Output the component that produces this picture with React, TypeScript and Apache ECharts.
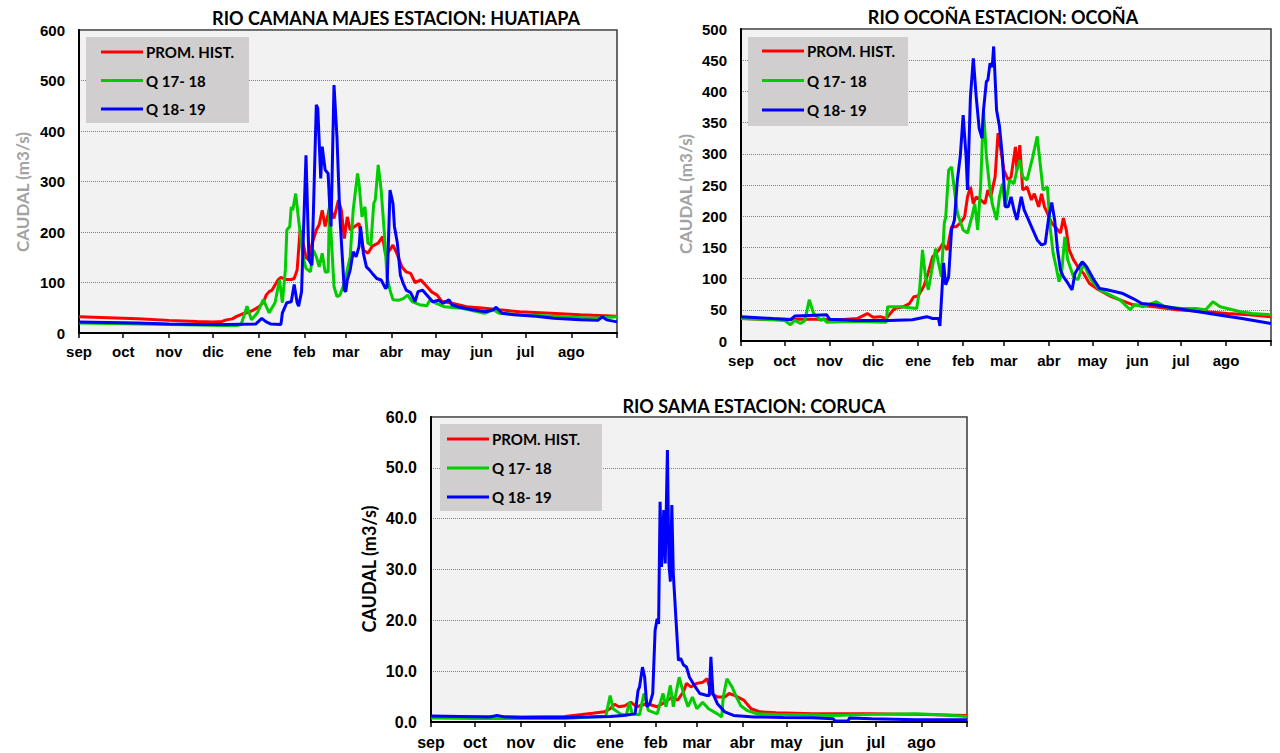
import React, { useEffect, useRef } from "react";
import * as echarts from "echarts";

// ---------- data ----------
const MONTHS = ["sep", "oct", "nov", "dic", "ene", "feb", "mar", "abr", "may", "jun", "jul", "ago"];
const MONTH_START_DAYS = [0, 30, 61, 91, 122, 153, 181, 212, 242, 273, 303, 334];
const YEAR_DAYS = 365;
const SERIES_NAMES = ["PROM. HIST.", "Q 17- 18", "Q 18- 19"];
const TITLES = [
  "RIO CAMANA MAJES ESTACION: HUATIAPA",
  "RIO OCOÑA ESTACION: OCOÑA",
  "RIO SAMA ESTACION: CORUCA",
];
const Y_NAME = "CAUDAL (m3/s)";

// [day since 1 sep, caudal m3/s]
const HUA_PROM: [number, number][] = [
  [0, 32], [20, 30], [40, 28], [61, 25], [80, 23], [91, 22], [97, 23], [100, 26], [104, 28], [107, 33],
  [111, 38], [114, 40], [118, 45], [122, 52], [125, 60], [127, 75], [129, 82], [131, 85], [133, 95], [135, 105],
  [137, 110], [140, 106], [144, 106], [146, 108], [148, 125], [150, 204], [152, 178], [154, 150], [156, 145], [158, 175],
  [161, 204], [163, 215], [165, 243], [167, 211], [169, 235], [170, 250], [173, 227], [176, 263], [178, 243], [180, 187],
  [182, 230], [184, 204], [187, 211], [190, 217], [193, 164], [196, 158], [199, 172], [203, 178], [206, 191], [208, 154],
  [211, 165], [213, 174], [216, 155], [219, 131], [222, 121], [225, 118], [228, 100], [232, 105], [236, 92], [239, 82],
  [243, 75], [246, 63], [253, 59], [263, 52], [275, 49], [285, 46], [299, 42], [320, 39], [340, 36], [365, 33],
];
const HUA_1718: [number, number][] = [
  [0, 20], [20, 19], [40, 18], [61, 17], [80, 16], [95, 15], [107, 15], [110, 17], [114, 53], [117, 26],
  [121, 40], [125, 66], [129, 40], [133, 60], [136, 105], [138, 60], [140, 125], [141, 204], [143, 211], [144, 250],
  [145, 243], [147, 276], [149, 224], [152, 151], [154, 128], [157, 121], [159, 164], [161, 151], [163, 131], [165, 158],
  [167, 121], [169, 121], [170, 257], [171, 197], [173, 92], [175, 72], [177, 75], [180, 98], [184, 151], [186, 243],
  [189, 316], [190, 296], [192, 230], [194, 250], [196, 178], [198, 174], [200, 257], [201, 263], [203, 333], [205, 283],
  [207, 204], [209, 111], [211, 85], [213, 66], [217, 65], [220, 68], [223, 75], [226, 62], [231, 56], [236, 54],
  [238, 65], [242, 59], [248, 52], [260, 49], [275, 39], [281, 46], [285, 39], [300, 36], [322, 33], [348, 29], [365, 32],
];
const HUA_1819: [number, number][] = [
  [0, 22], [20, 21], [40, 20], [61, 18], [80, 17], [100, 17], [120, 18], [124, 29], [127, 22], [130, 18],
  [137, 17], [138, 40], [141, 60], [144, 62], [146, 96], [148, 60], [149, 53], [151, 82], [154, 352], [156, 145],
  [158, 134], [159, 237], [161, 452], [162, 445], [164, 306], [165, 369], [167, 323], [169, 316], [170, 257], [171, 211],
  [173, 491], [175, 389], [177, 230], [180, 85], [181, 82], [182, 105], [184, 125], [186, 161], [188, 151], [190, 171],
  [191, 211], [193, 157], [195, 131], [197, 125], [199, 118], [202, 108], [205, 105], [208, 88], [209, 91], [211, 283],
  [213, 257], [214, 211], [216, 178], [218, 115], [220, 98], [222, 85], [225, 80], [228, 62], [230, 82], [233, 85],
  [237, 72], [240, 62], [244, 65], [247, 59], [251, 66], [253, 56], [258, 51], [267, 46], [276, 42], [281, 46],
  [283, 51], [287, 39], [295, 36], [310, 33], [322, 29], [340, 26], [352, 25], [355, 32], [358, 26], [365, 22],
];

const OCO_PROM: [number, number][] = [
  [0, 36], [15, 35], [30, 35], [50, 35], [68, 34], [80, 36], [87, 44], [91, 38], [96, 39], [100, 36],
  [105, 50], [107, 53], [112, 55], [116, 60], [119, 71], [122, 72], [126, 88], [129, 110], [132, 135], [136, 145],
  [139, 156], [142, 146], [145, 183], [148, 183], [151, 189], [154, 199], [156, 231], [158, 247], [160, 220], [162, 231],
  [165, 226], [168, 220], [170, 242], [172, 231], [175, 263], [177, 333], [179, 306], [181, 274], [184, 258], [186, 263],
  [189, 311], [190, 274], [192, 314], [194, 242], [197, 247], [200, 226], [202, 236], [205, 215], [207, 236], [209, 215],
  [211, 205], [214, 189], [217, 181], [220, 173], [222, 197], [224, 178], [226, 146], [229, 130], [232, 119], [236, 108],
  [240, 92], [245, 84], [255, 71], [270, 58], [285, 55], [300, 50], [320, 47], [335, 44], [350, 42], [365, 39],
];
const OCO_1718: [number, number][] = [
  [0, 36], [15, 35], [30, 33], [34, 26], [37, 33], [41, 28], [44, 33], [47, 66], [50, 44], [55, 33],
  [57, 36], [59, 30], [70, 31], [85, 31], [100, 30], [101, 55], [110, 55], [121, 52], [123, 82], [125, 146],
  [127, 103], [129, 82], [131, 108], [134, 148], [136, 125], [138, 103], [140, 189], [141, 199], [143, 274], [145, 279],
  [147, 242], [149, 205], [153, 178], [156, 173], [159, 199], [161, 220], [163, 178], [165, 247], [167, 370], [169, 296],
  [171, 252], [173, 220], [176, 194], [178, 231], [180, 252], [182, 215], [185, 258], [188, 252], [190, 274], [192, 290],
  [194, 263], [197, 258], [201, 296], [204, 328], [206, 285], [208, 242], [211, 247], [213, 180], [215, 140], [217, 119],
  [219, 95], [221, 114], [223, 167], [225, 130], [229, 103], [232, 98], [236, 125], [239, 108], [242, 95], [247, 82],
  [254, 74], [261, 66], [268, 50], [271, 58], [277, 55], [286, 63], [292, 55], [303, 52], [313, 52], [320, 50],
  [325, 63], [330, 55], [344, 47], [352, 44], [365, 42],
];
const OCO_1819: [number, number][] = [
  [0, 39], [15, 37], [22, 36], [30, 35], [34, 34], [37, 40], [47, 41], [59, 42], [61, 35], [80, 33],
  [102, 33], [118, 34], [128, 39], [132, 36], [136, 36], [137, 24], [139.5, 125], [141, 90], [143, 103], [145, 178],
  [147, 194], [149, 258], [151, 296], [153, 362], [155, 296], [156, 242], [158, 391], [160, 453], [162, 391], [164, 341],
  [166, 325], [167, 370], [169, 416], [170, 418], [171.5, 445], [173, 439], [174, 472], [176, 370], [178, 344], [180, 296],
  [182, 215], [184, 215], [186, 231], [188, 210], [190, 194], [193, 231], [195, 210], [198, 194], [201, 178], [204, 162],
  [207, 154], [209.5, 156], [212, 199], [214, 222], [216, 194], [218, 146], [220, 114], [222, 103], [225, 93], [228, 82],
  [230, 108], [233, 120], [235, 127], [238, 119], [243, 98], [247, 84], [252, 82], [263, 76], [270, 68], [276, 60],
  [285, 58], [300, 52], [315, 47], [328, 42], [345, 36], [358, 31], [365, 28],
];

const COR_PROM: [number, number][] = [
  [0, 1.0], [30, 1.0], [61, 1.0], [91, 1.1], [100, 1.4], [110, 1.7], [118, 2.0], [122, 2.6], [125, 3.5], [128, 3.0],
  [132, 3.2], [136, 3.9], [140, 3.0], [147, 3.6], [154, 3.0], [160, 4.0], [164, 4.9], [168, 4.3], [172, 6.0], [174, 7.6],
  [177, 6.9], [181, 7.6], [185, 7.8], [188, 8.5], [191, 5.6], [195, 4.9], [200, 4.9], [203, 5.6], [207, 5.2], [213, 4.3],
  [218, 2.6], [224, 2.0], [235, 1.8], [260, 1.6], [300, 1.6], [330, 1.5], [365, 1.3],
];
const COR_1718: [number, number][] = [
  [0, 0.8], [30, 0.7], [61, 0.7], [91, 0.7], [108, 1.0], [119, 1.1], [122, 5.2], [124, 2.6], [129, 1.6], [133, 1.3],
  [135, 3.9], [137, 1.6], [142, 1.4], [145, 5.6], [148, 2.3], [154, 1.6], [158, 5.6], [160, 3.0], [163, 7.2], [165, 3.0],
  [169, 8.8], [172, 5.6], [175, 3.0], [178, 4.9], [181, 2.6], [185, 3.9], [189, 2.6], [195, 1.6], [198, 1.0], [199, 4.9],
  [201.5, 8.5], [205, 6.9], [208, 4.9], [211, 3.2], [215, 2.3], [222, 1.6], [235, 1.5], [260, 1.4], [275, 1.3], [300, 1.5],
  [330, 1.6], [350, 1.4], [365, 1.1],
];
const COR_1819: [number, number][] = [
  [0, 1.2], [20, 1.1], [40, 1.0], [45, 1.3], [50, 1.0], [61, 0.9], [91, 0.9], [108, 1.0], [122, 1.1], [131, 1.3],
  [139, 1.6], [141, 6.2], [142, 6.9], [144, 10.8], [145.5, 8.8], [147, 3.0], [149, 3.6], [151, 5.6], [152.6, 18.0], [154, 20.3],
  [155, 19.3], [156, 43.3], [157, 30.5], [158.5, 41.7], [159.5, 31.2], [161, 53.5], [162, 31.2], [163, 27.6], [164, 42.7], [165, 29.2],
  [167, 19.3], [168.5, 12.1], [170, 12.5], [172, 11.2], [174, 10.8], [176, 8.8], [180, 6.9], [183, 5.6], [188, 5.2], [189.5, 5.2],
  [190.6, 12.8], [192, 5.6], [195, 3.6], [200, 2.0], [206, 1.3], [220, 1.0], [240, 0.9], [260, 0.85], [274, 0.65], [275, 0.2],
  [284, 0.2], [285, 0.8], [300, 0.65], [330, 0.45], [365, 0.45],
];

const PANEL_DATA = [
  [HUA_PROM, HUA_1718, HUA_1819],
  [OCO_PROM, OCO_1718, OCO_1819],
  [COR_PROM, COR_1718, COR_1819],
];
const Y_MAX = [600, 500, 60];
const Y_STEP = [100, 50, 10];
const Y_DECIMALS = [0, 0, 1];

// ---------- layout / style ----------
const COLORS = ["#ff0000", "#00cc00", "#0000ff"];
const GRIDS = [
  { left: 79, top: 30, width: 538, height: 303 },
  { left: 741, top: 29, width: 530, height: 312 },
  { left: 431, top: 417, width: 536, height: 305 },
];
const LEGEND_BOX = [
  { x: 86, y: 37, w: 163, h: 86 },
  { x: 748, y: 37, w: 160, h: 89 },
  { x: 440, y: 424, w: 162, h: 87 },
];
const LEGEND_POS = [
  { left: 101, top: 44, gap: 12.5 },
  { left: 762, top: 43, gap: 13.5 },
  { left: 447, top: 431, gap: 13 },
];
const TITLE_POS = [
  { x: 396, y: 18 },
  { x: 1003, y: 17 },
  { x: 754, y: 406 },
];
const YNAME_POS = [
  { x: 22, y: 192, color: "#a3a3a3", size: 17 },
  { x: 685, y: 194, color: "#a3a3a3", size: 17 },
  { x: 369, y: 569, color: "#000000", size: 18 },
];
const LABEL_SIZE = [15, 15, 16];
const TITLE_FONT = "Lato, 'Noto Sans', sans-serif";
const AXIS_FONT = "'Liberation Sans', Arial, sans-serif";

function buildOption() {
  const grid = GRIDS.map((g) => ({
    ...g,
    show: true,
    backgroundColor: "#f2f2f2",
    borderColor: "#3a3a3a",
    borderWidth: 1.5,
  }));

  const xAxis = GRIDS.map((_, i) => ({
    type: "value",
    gridIndex: i,
    min: 0,
    max: YEAR_DAYS,
    axisLine: { show: true, lineStyle: { color: "#000", width: 2 } },
    axisTick: {
      show: true,
      length: 5,
      customValues: [...MONTH_START_DAYS, YEAR_DAYS],
      lineStyle: { color: "#000", width: 1.5 },
    },
    axisLabel: {
      customValues: MONTH_START_DAYS,
      formatter: (v: number) => {
        const k = MONTH_START_DAYS.indexOf(Math.round(v));
        return k >= 0 ? MONTHS[k] : "";
      },
      margin: i === 0 ? 11 : 12,
      color: "#000",
      fontFamily: AXIS_FONT,
      fontWeight: "bold",
      fontSize: LABEL_SIZE[i],
    },
    splitLine: { show: false },
  }));

  const yAxis = GRIDS.map((_, i) => ({
    type: "value",
    gridIndex: i,
    min: 0,
    max: Y_MAX[i],
    interval: Y_STEP[i],
    axisLine: { show: true, lineStyle: { color: "#000", width: 2 } },
    axisTick: { show: false },
    axisLabel: {
      margin: 14,
      color: "#000",
      fontFamily: AXIS_FONT,
      fontWeight: "bold",
      fontSize: LABEL_SIZE[i],
      formatter: (v: number) => v.toFixed(Y_DECIMALS[i]),
    },
    splitLine: { show: true, lineStyle: { color: "#7f7f7f", type: "dotted", width: 1 } },
  }));

  const series: any[] = [];
  PANEL_DATA.forEach((sets, p) => {
    sets.forEach((data, s) => {
      series.push({
        type: "line",
        name: SERIES_NAMES[s],
        xAxisIndex: p,
        yAxisIndex: p,
        data,
        symbol: "none",
        showSymbol: false,
        lineStyle: { color: COLORS[s], width: 3 },
        itemStyle: { color: COLORS[s] },
        z: 2 + s,
      });
    });
  });

  const legend = LEGEND_POS.map((l) => ({
    left: l.left,
    top: l.top,
    orient: "vertical",
    icon: "rect",
    itemWidth: 42,
    itemHeight: 3,
    itemGap: l.gap,
    padding: 0,
    data: SERIES_NAMES,
    selectedMode: false,
    textStyle: {
      fontFamily: TITLE_FONT,
      fontWeight: "bold",
      fontSize: 15,
      lineHeight: 16,
      color: "#000",
      padding: [0, 0, 0, -2],
    },
  }));

  const elements: any[] = [];
  LEGEND_BOX.forEach((b) => {
    elements.push({
      type: "rect",
      z: 3,
      shape: { x: b.x, y: b.y, width: b.w, height: b.h },
      style: { fill: "#d0cece" },
    });
  });
  TITLE_POS.forEach((t, i) => {
    elements.push({
      type: "text",
      z: 5,
      x: t.x,
      y: t.y,
      style: {
        text: TITLES[i],
        align: "center",
        verticalAlign: "middle",
        fill: "#000",
        font: `bold 18px ${TITLE_FONT}`,
      },
    });
  });
  YNAME_POS.forEach((t) => {
    elements.push({
      type: "text",
      z: 5,
      x: t.x,
      y: t.y,
      rotation: Math.PI / 2,
      style: {
        text: Y_NAME,
        align: "center",
        verticalAlign: "middle",
        fill: t.color,
        font: `bold ${t.size}px ${TITLE_FONT}`,
      },
    });
  });

  return {
    animation: false,
    backgroundColor: "#ffffff",
    grid,
    xAxis,
    yAxis,
    legend,
    series,
    graphic: { elements },
  };
}

export default function App() {
  const ref = useRef<HTMLDivElement>(null);
  useEffect(() => {
    if (!ref.current) return;
    const chart = echarts.init(ref.current, undefined, { renderer: "svg" });
    chart.setOption(buildOption() as any);
    return () => chart.dispose();
  }, []);
  return (
    <div
      ref={ref}
      style={{ position: "fixed", left: 0, top: 0, width: 1280, height: 753, background: "#fff" }}
    />
  );
}
